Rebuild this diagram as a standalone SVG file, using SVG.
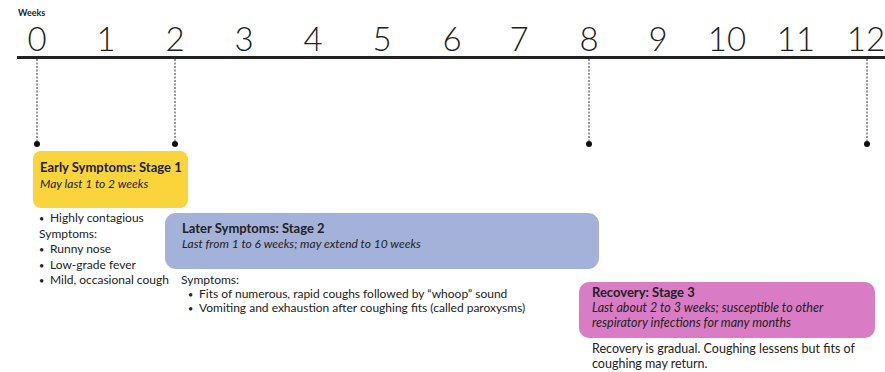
<svg xmlns="http://www.w3.org/2000/svg" width="885" height="372" viewBox="0 0 885 372">
<style>
.num{font-family:"Lato Light",Lato,"Liberation Sans",sans-serif;font-weight:300;font-size:33px;fill:#222;text-anchor:middle}
.t{font-family:Lato,"Liberation Sans",sans-serif;font-size:12px;fill:#222}
.b{font-weight:bold;font-size:13px}
.i{font-style:italic}
.s3{font-size:12.5px}
.bu{font-family:Lato,"Liberation Sans",sans-serif;font-size:9px;fill:#222}
.dash{stroke:#333;stroke-width:1;stroke-dasharray:2 1.5;fill:none}
.dot{fill:#111}
</style>
<rect width="885" height="372" fill="#fff"/>
<g id="axis">
<text x="18" y="16" class="t" style="font-size:9px;font-weight:bold">Weeks</text>
<line x1="17" y1="57.5" x2="885" y2="57.5" stroke="#222" stroke-width="3"/>
<text class="num" x="37" y="51">0</text>
<text class="num" x="106" y="51">1</text>
<text class="num" x="175" y="51">2</text>
<text class="num" x="244" y="51">3</text>
<text class="num" x="313" y="51">4</text>
<text class="num" x="382" y="51">5</text>
<text class="num" x="452" y="51">6</text>
<text class="num" x="519" y="51">7</text>
<text class="num" x="589" y="51">8</text>
<text class="num" x="658" y="51">9</text>
<text class="num" x="727" y="51">10</text>
<text class="num" x="796" y="51">11</text>
<text class="num" x="866" y="51">12</text>
</g>
<g id="connectors">
<line class="dash" x1="37" y1="59" x2="37" y2="144"/>
<circle class="dot" cx="37" cy="144" r="3"/>
<line class="dash" x1="175" y1="59" x2="175" y2="144"/>
<circle class="dot" cx="175" cy="144" r="3"/>
<line class="dash" x1="589" y1="59" x2="589" y2="144"/>
<circle class="dot" cx="589" cy="144" r="3"/>
<line class="dash" x1="867" y1="59" x2="867" y2="144"/>
<circle class="dot" cx="867" cy="144" r="3"/>
</g>
<g id="stage1">
<rect x="33" y="151" width="155" height="57" rx="8" fill="#F9D43A"/>
<text class="t b" x="40" y="172">Early Symptoms: Stage 1</text>
<text class="t i" x="40" y="188">May last 1 to 2 weeks</text>
<text class="bu" x="39" y="222">•</text><text class="t" x="50" y="222">Highly contagious</text>
<text class="t" x="39" y="238">Symptoms:</text>
<text class="bu" x="39" y="253">•</text><text class="t" x="50" y="253">Runny nose</text>
<text class="bu" x="39" y="269">•</text><text class="t" x="50" y="269">Low-grade fever</text>
<text class="bu" x="39" y="284">•</text><text class="t" x="50" y="284">Mild, occasional cough</text>
</g>
<g id="stage2">
<rect x="165" y="213" width="434" height="56" rx="11" fill="#A4B2D9"/>
<text class="t b" x="182" y="233">Later Symptoms: Stage 2</text>
<text class="t i" x="182" y="248">Last from 1 to 6 weeks; may extend to 10 weeks</text>
<text class="t" x="181" y="284">Symptoms:</text>
<text class="bu" x="188" y="298">•</text><text class="t" x="199" y="298">Fits of numerous, rapid coughs followed by “whoop” sound</text>
<text class="bu" x="188" y="312">•</text><text class="t" x="199" y="312">Vomiting and exhaustion after coughing fits (called paroxysms)</text>
</g>
<g id="stage3">
<rect x="579" y="282" width="296" height="56" rx="10" fill="#D97CC5"/>
<text class="t b" x="592" y="297">Recovery: Stage 3</text>
<text class="t i s3" x="592" y="312">Last about 2 to 3 weeks; susceptible to other</text>
<text class="t i s3" x="592" y="327">respiratory infections for many months</text>
<text class="t s3" x="592" y="353">Recovery is gradual. Coughing lessens but fits of</text>
<text class="t s3" x="592" y="368">coughing may return.</text>
</g>
</svg>
